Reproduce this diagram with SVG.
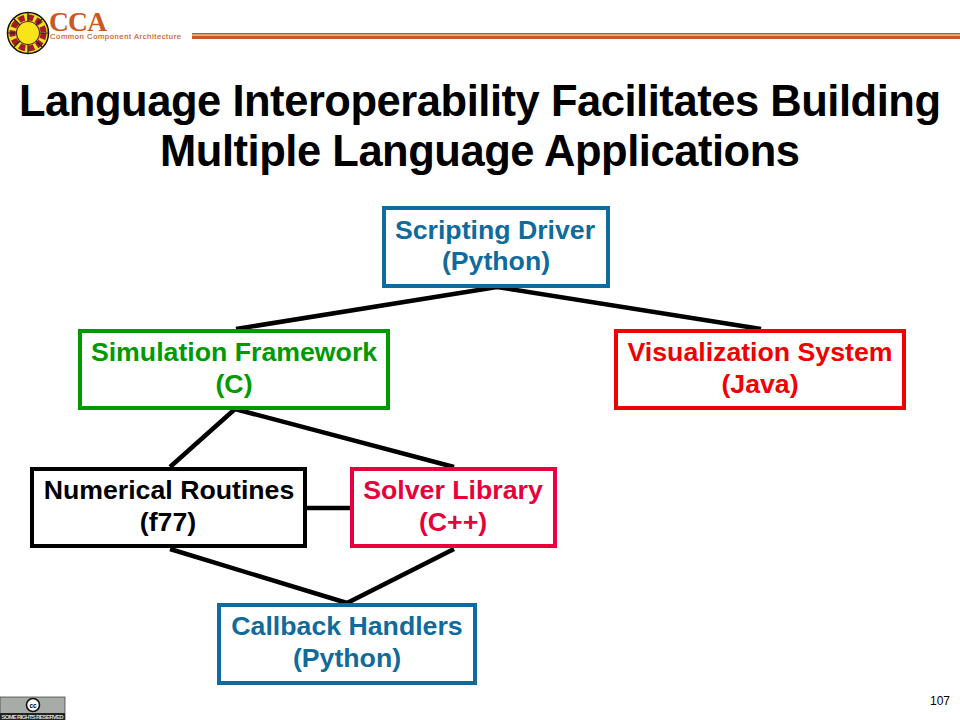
<svg xmlns="http://www.w3.org/2000/svg" width="960" height="720" viewBox="0 0 960 720">
<style>
text{font-family:"Liberation Sans",Arial,sans-serif;font-weight:700}
.t{font-size:26.7px;text-anchor:middle}
.b{fill:#fff;stroke-width:4}
.c{stroke:#000;stroke-width:4.5;fill:none;stroke-linecap:butt}
.blue{fill:#0f6b9c}.green{fill:#009a00}.red{fill:#f00000}.crim{fill:#e8003c}
</style>
<rect width="960" height="720" fill="#fff"/>
<g id="header">
<circle cx="28" cy="33" r="20.5" fill="#f5e11e" stroke="#111" stroke-width="1.5"/>
<circle cx="28" cy="33" r="15.500" fill="none" stroke="#a01c2c" stroke-width="6" stroke-dasharray="6 3"/>
<path d="M28 12.500V22M28 44V53.500M7.500 33H17M39 33H48.500M13.500 18.500L20 25M36 41L42.500 47.500M42.500 18.500L36 25M20 41L13.500 47.500" stroke="#222" stroke-width="1.200"/>
<circle cx="28" cy="33" r="11.500" fill="#f7e51a" stroke="#5a2a10" stroke-width="1.200"/>
<text x="49" y="31" font-size="27.500" style="font-family:'Liberation Serif',serif;font-weight:700" fill="#c9591e" textLength="58">CCA</text>
<text x="50" y="39" font-size="7.600" fill="#c9591e" style="font-weight:400" stroke="#c9591e" stroke-width=".15" textLength="131">Common Component Architecture</text>
<rect x="192" y="33" width="768" height="1.600" fill="#c9591e"/>
<rect x="192" y="35.500" width="768" height="3.500" fill="#c9591e"/>
</g>
<g id="title">
<text x="480" y="116" font-size="43.500" text-anchor="middle" textLength="922">Language Interoperability Facilitates Building</text>
<text x="480" y="166" font-size="43.500" text-anchor="middle" textLength="640">Multiple Language Applications</text>
</g>
<g id="connectors">
<path class="c" d="M236 329L497 287L761 329"/>
<path class="c" d="M170 467L235 409L454 467"/>
<path class="c" d="M306 508H352"/>
<path class="c" d="M170 549L347 603L454 549"/>
</g>
<g id="scripting-driver">
<rect class="b" x="384" y="208" width="224" height="78" stroke="#0f6b9c"/>
<text class="t blue" x="495" y="239">Scripting Driver</text>
<text class="t blue" x="496" y="270">(Python)</text>
</g>
<g id="simulation-framework">
<rect class="b" x="80" y="331" width="308" height="77" stroke="#009a00"/>
<text class="t green" x="234" y="361">Simulation Framework</text>
<text class="t green" x="234" y="393">(C)</text>
</g>
<g id="visualization-system">
<rect class="b" x="616" y="331" width="288" height="77" stroke="#f00000"/>
<text class="t red" x="760" y="361">Visualization System</text>
<text class="t red" x="760" y="393">(Java)</text>
</g>
<g id="numerical-routines">
<rect class="b" x="32" y="469" width="273" height="77" stroke="#000"/>
<text class="t" x="169" y="499">Numerical Routines</text>
<text class="t" x="168" y="531">(f77)</text>
</g>
<g id="solver-library">
<rect class="b" x="352" y="469" width="203" height="77" stroke="#e8003c"/>
<text class="t crim" x="453" y="499">Solver Library</text>
<text class="t crim" x="453" y="531">(C++)</text>
</g>
<g id="callback-handlers">
<rect class="b" x="219" y="605" width="256" height="78" stroke="#0f6b9c"/>
<text class="t blue" x="347" y="635">Callback Handlers</text>
<text class="t blue" x="347" y="667">(Python)</text>
</g>
<g id="footer">
<rect x="0" y="697" width="65" height="23" fill="#a8aca8" stroke="#333" stroke-width=".7"/>
<rect x="0" y="713" width="65" height="7" fill="#222"/>
<circle cx="33" cy="705" r="6.500" fill="#fff" stroke="#111" stroke-width="1.600"/>
<text x="33" y="707.500" font-size="6.500" text-anchor="middle">cc</text>
<text x="32.500" y="719" font-size="6" fill="#ddd" text-anchor="middle" textLength="62">SOME RIGHTS RESERVED</text>
<text x="940" y="705" font-size="12" style="font-weight:400" text-anchor="middle">107</text>
</g>
</svg>
